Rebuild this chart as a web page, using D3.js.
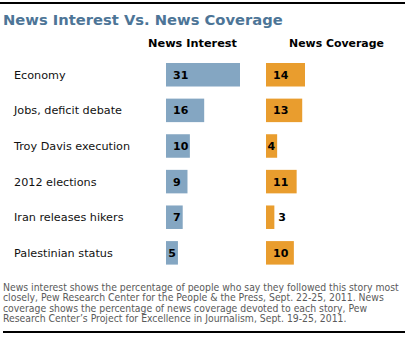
<!DOCTYPE html>
<html><head><meta charset="utf-8">
<script src="https://cdn.jsdelivr.net/npm/d3@7"></script>
<style>html,body{margin:0;padding:0;background:#fff;}svg{display:block;}</style>
</head><body>
<script>
const categories = ["Economy","Jobs, deficit debate","Troy Davis execution","2012 elections","Iran releases hikers","Palestinian status"];
const interest = [31,16,10,9,7,5];
const coverage = [14,13,4,11,3,10];
const title = "News Interest Vs. News Coverage";
const headers = ["News Interest","News Coverage"];
const notes = [
 "News interest shows the percentage of people who say they followed this story most",
 "closely, Pew Research Center for the People & the Press, Sept. 22-25, 2011. News",
 "coverage shows the percentage of news coverage devoted to each story, Pew",
 "Research Center\u2019s Project for Excellence in Journalism, Sept. 19-25, 2011."
];

const W=410,H=337;
const svg=d3.select("body").append("svg").attr("width",W).attr("height",H);
const font="DejaVu Sans, Verdana, sans-serif";
const fontC="DejaVu Sans Condensed, DejaVu Sans, sans-serif";

function fit(sel, target){
  const w=sel.node().getComputedTextLength();
  const fs=parseFloat(sel.attr("font-size"));
  sel.attr("font-size",(fs*target/w).toFixed(2));
}

svg.append("line").attr("x1",0).attr("x2",405).attr("y1",3).attr("y2",3).attr("stroke","#000").attr("stroke-width",2);
svg.append("line").attr("x1",3).attr("x2",405).attr("y1",332).attr("y2",332).attr("stroke","#000").attr("stroke-width",2);

const t=svg.append("text").attr("x",3).attr("y",25).attr("font-family",font).attr("font-weight","bold")
  .attr("font-size",15).attr("fill","#4d7597").text(title);
fit(t,280);

const h1=svg.append("text").attr("x",192.5).attr("y",47).attr("text-anchor","middle").attr("font-family",font)
  .attr("font-weight","bold").attr("font-size",11).attr("fill","#000").text(headers[0]);
fit(h1,89);
const h2=svg.append("text").attr("x",336.5).attr("y",47).attr("text-anchor","middle").attr("font-family",font)
  .attr("font-weight","bold").attr("font-size",11).attr("fill","#000").text(headers[1]);
fit(h2,95);

const y=d3.scaleBand().domain(categories).range([63,264.6]).paddingInner(0.34).paddingOuter(0);
const xI=d3.scaleLinear().domain([0,31]).range([166,240]);
const xC=d3.scaleLinear().domain([0,14]).range([266,305]);

const cat=svg.append("g").selectAll("text").data(categories).join("text")
  .attr("x",14).attr("y",d=>y(d)+y.bandwidth()/2).attr("dy","0.35em")
  .attr("font-family",font).attr("font-size",11).attr("fill","#111").text(d=>d);
{
  const n=cat.nodes()[2]; const w=n.getComputedTextLength();
  cat.attr("font-size",(11*116/w).toFixed(2));
}

function drawBars(vals,x,color){
  const g=svg.append("g");
  g.selectAll("rect").data(vals).join("rect")
    .attr("x",x(0)).attr("y",(d,i)=>y(categories[i])).attr("height",y.bandwidth())
    .attr("width",d=>x(d)-x(0)).attr("fill",color);
  g.selectAll("text").data(vals).join("text")
    .attr("font-family",font).attr("font-weight","bold").attr("font-size",11).attr("fill","#000")
    .attr("y",(d,i)=>y(categories[i])+y.bandwidth()/2).attr("dy","0.36em")
    .each(function(d){
      const bw=x(d)-x(0); const s=d3.select(this);
      if(bw>=20){s.attr("x",x(0)+7).attr("text-anchor","start");}
      else if(bw>=10){s.attr("x",x(d)-2).attr("text-anchor","end");}
      else {s.attr("x",x(d)+4).attr("text-anchor","start");}
    })
    .text(d=>d);
}
drawBars(interest,xI,"#84a6c2");
drawBars(coverage,xC,"#e99d2e");

const nt=svg.append("g").selectAll("text").data(notes).join("text")
  .attr("x",3).attr("y",(d,i)=>290.5+i*10.5)
  .attr("font-family",fontC).attr("font-size",9).attr("fill","#5a5a5a").text(d=>d);
{
  const w=nt.nodes()[0].getComputedTextLength();
  nt.attr("font-size",(9*396/w).toFixed(2));
}
</script>
</body></html>
